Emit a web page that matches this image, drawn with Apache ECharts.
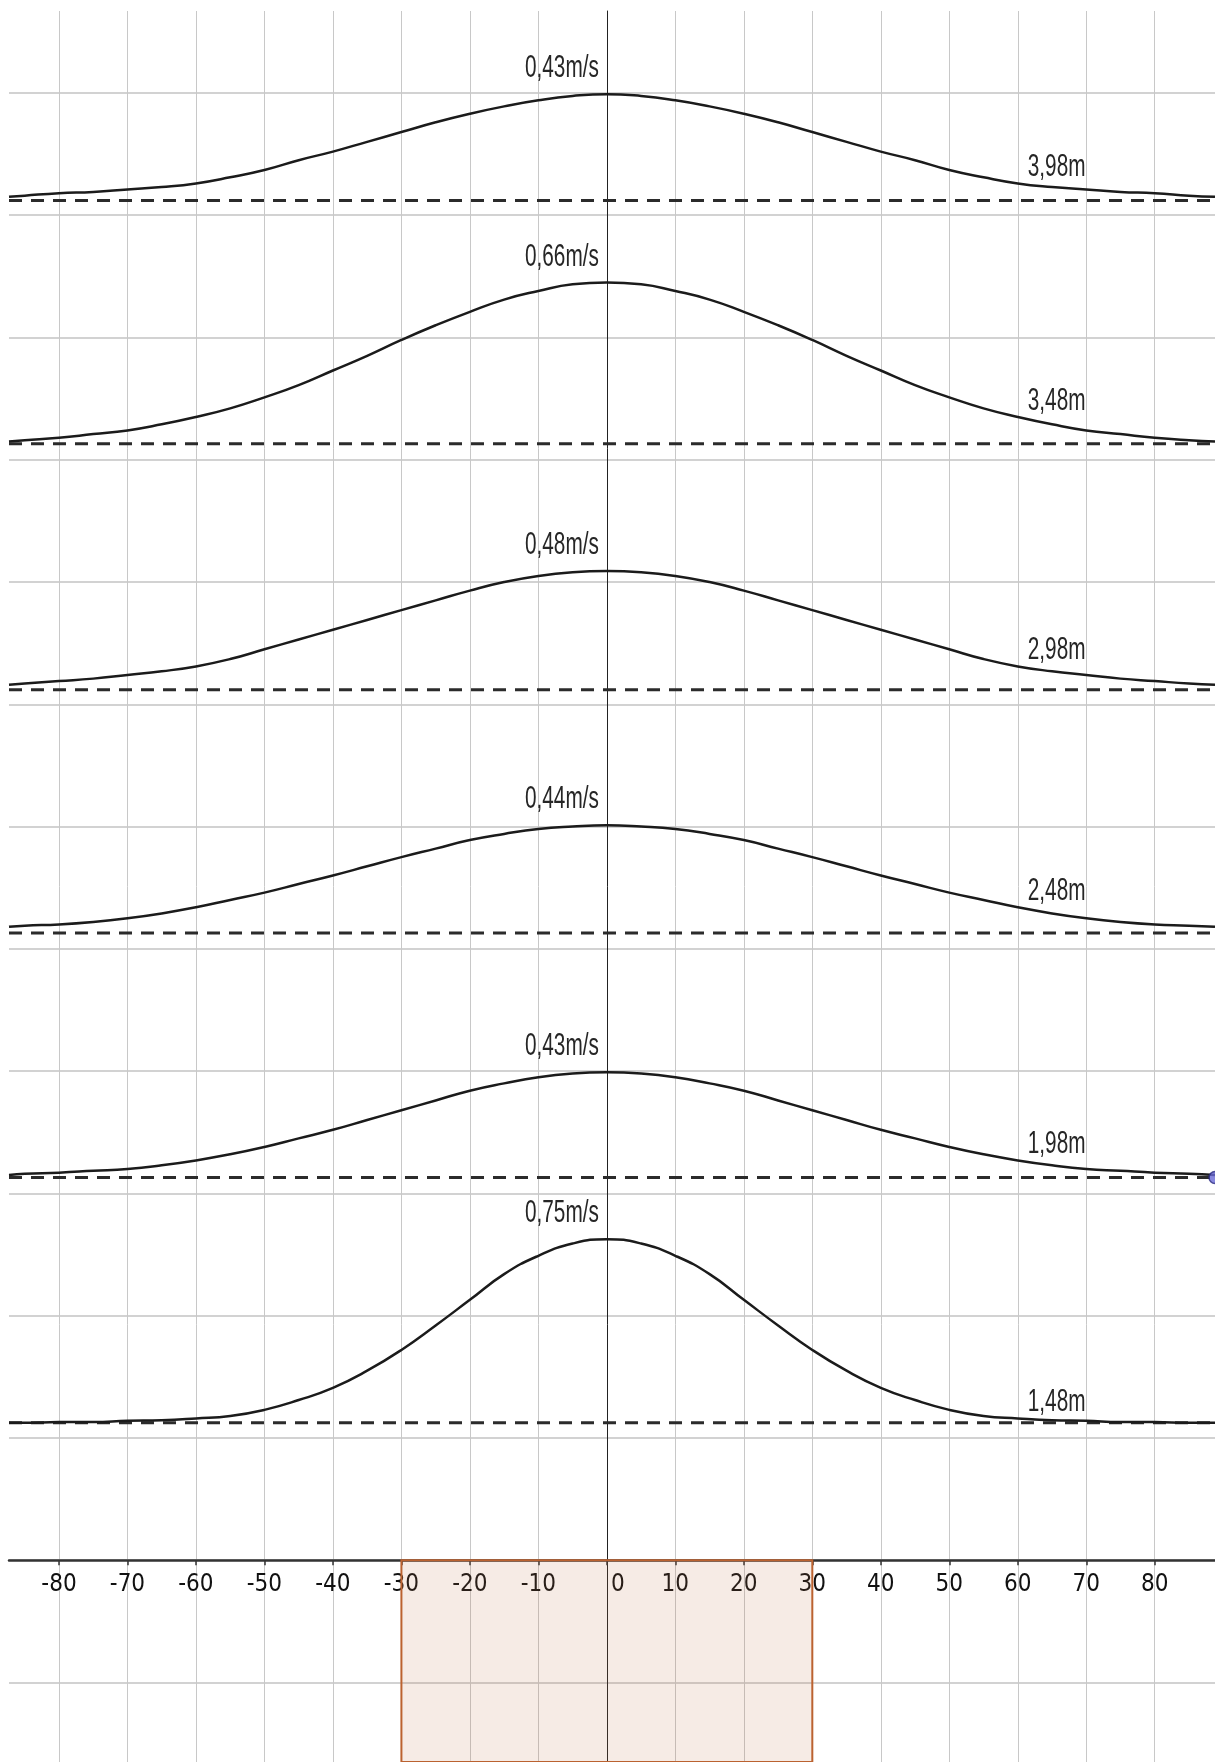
<!DOCTYPE html>
<html>
<head>
<meta charset="utf-8">
<title>Wave profiles</title>
<script src="https://cdn.jsdelivr.net/npm/echarts@6/dist/echarts.min.js"></script>
<style>
  html, body { margin: 0; padding: 0; background: #fff; }
  #main { width: 1215px; height: 1762px; }
</style>
</head>
<body>
<div id="main"></div>
<script>
// x positions the curves were read at (view edges included)
const xs = [-87.3, -85, -80, -75, -70, -65, -60, -55, -50, -45, -40, -35, -30, -25, -20, -15, -10, -5, 0,
            5, 10, 15, 20, 25, 30, 35, 40, 45, 50, 55, 60, 65, 70, 75, 80, 85, 88.8]

// curve heights in grid units
const wave398 = [11.15, 11.16, 11.18, 11.19, 11.21, 11.23, 11.26, 11.31, 11.37, 11.45, 11.52, 11.60, 11.68, 11.76, 11.83, 11.89, 11.94, 11.975, 11.99,
                 11.975, 11.94, 11.89, 11.83, 11.76, 11.68, 11.60, 11.52, 11.45, 11.37, 11.31, 11.26, 11.23, 11.21, 11.19, 11.18, 11.16, 11.15]
const wave348 = [9.15, 9.16, 9.18, 9.21, 9.24, 9.29, 9.35, 9.42, 9.51, 9.61, 9.73, 9.85, 9.98, 10.10, 10.21, 10.31, 10.38, 10.435, 10.45,
                 10.435, 10.38, 10.31, 10.21, 10.10, 9.98, 9.85, 9.73, 9.61, 9.51, 9.42, 9.35, 9.29, 9.24, 9.21, 9.18, 9.16, 9.15]
const wave298 = [7.16, 7.17, 7.19, 7.21, 7.24, 7.27, 7.31, 7.37, 7.45, 7.53, 7.61, 7.69, 7.77, 7.85, 7.93, 8.00, 8.05, 8.08, 8.09,
                 8.08, 8.05, 8.00, 7.93, 7.85, 7.77, 7.69, 7.61, 7.53, 7.45, 7.37, 7.31, 7.27, 7.24, 7.21, 7.19, 7.17, 7.16]
const wave248 = [5.18, 5.19, 5.20, 5.22, 5.25, 5.29, 5.34, 5.40, 5.46, 5.53, 5.60, 5.675, 5.75, 5.82, 5.89, 5.94, 5.98, 6.00, 6.01,
                 6.00, 5.98, 5.94, 5.89, 5.82, 5.75, 5.675, 5.60, 5.53, 5.46, 5.40, 5.34, 5.29, 5.25, 5.22, 5.20, 5.19, 5.18]
const wave198 = [3.15, 3.16, 3.17, 3.185, 3.20, 3.23, 3.27, 3.32, 3.38, 3.45, 3.52, 3.60, 3.68, 3.76, 3.84, 3.90, 3.95, 3.98, 3.99,
                 3.98, 3.95, 3.90, 3.84, 3.76, 3.68, 3.60, 3.52, 3.45, 3.38, 3.32, 3.27, 3.23, 3.20, 3.185, 3.17, 3.16, 3.15]
const wave148 = [1.125, 1.125, 1.13, 1.13, 1.14, 1.145, 1.16, 1.18, 1.23, 1.31, 1.41, 1.55, 1.72, 1.92, 2.13, 2.34, 2.49, 2.59, 2.625,
                 2.59, 2.49, 2.34, 2.13, 1.92, 1.72, 1.55, 1.41, 1.31, 1.23, 1.18, 1.16, 1.145, 1.14, 1.13, 1.13, 1.125, 1.125]

const stillLevels = [11.12, 9.13, 7.12, 5.13, 3.13, 1.125]
const depthLabels = ['3,98m', '3,48m', '2,98m', '2,48m', '1,98m', '1,48m']
const speedLabels = ['0,43m/s', '0,66m/s', '0,48m/s', '0,44m/s', '0,43m/s', '0,75m/s']
const shadedRange = [-30, 30]
const endPoint = [88.8, 3.13]

const X_MIN = -87.3, X_MAX = 88.8
const Y_MIN = -1.65, Y_MAX = 12.67
const GRID_TOP = 11, GRID_LEFT = 9
const AXIS_FONT = "'DejaVu Sans Condensed', 'Liberation Sans Narrow', sans-serif"
const LABEL_FONT = "31px 'Liberation Sans', Arial, sans-serif"

const waves = [wave398, wave348, wave298, wave248, wave198, wave148]

const chart = echarts.init(document.getElementById('main'))

// pixel distance from the bottom of the grid up to y = 0
const gridHeight = 1762 - GRID_TOP
const zeroOffset = gridHeight * (0 - Y_MIN) / (Y_MAX - Y_MIN)

const series = []

// still-water levels (dashed)
stillLevels.forEach(function (lv, i) {
    series.push({
        type: 'line',
        name: 'level' + i,
        data: [[X_MIN, lv], [X_MAX, lv]],
        symbol: 'none',
        z: 3,
        lineStyle: { color: '#2b2b2b', width: 3, type: [13, 9] }
    })
})

// wave profiles
waves.forEach(function (w, i) {
    series.push({
        type: 'line',
        name: 'wave' + i,
        data: xs.map(function (x, j) { return [x, w[j]] }),
        symbol: 'none',
        smooth: 0.5,
        z: 4,
        lineStyle: { color: '#1b1b1b', width: 2.5 }
    })
})

// point at the right edge of the 1,98m level
series.push({
    type: 'scatter',
    name: 'point',
    data: [endPoint],
    symbolSize: 12,
    z: 6,
    itemStyle: { color: '#6a6ad6', borderColor: '#2a2a80', borderWidth: 1.5 }
})

// shaded strip under the axis
series.push({
    type: 'line',
    name: 'strip',
    data: [],
    z: 2,
    markArea: {
        silent: true,
        itemStyle: {
            color: 'rgba(190,110,70,0.14)',
            borderColor: '#bb6230',
            borderWidth: 2
        },
        data: [[{ xAxis: shadedRange[0], yAxis: 0 }, { xAxis: shadedRange[1], yAxis: Y_MIN - 0.2 }]]
    }
})

const option = {
    animation: false,
    backgroundColor: '#fff',
    grid: { left: GRID_LEFT, right: 0, top: GRID_TOP, bottom: 0, containLabel: false, outerBoundsMode: 'none' },
    xAxis: {
        type: 'value',
        position: 'bottom',
        offset: -zeroOffset,
        min: X_MIN,
        max: X_MAX,
        splitNumber: 18,
        minInterval: 10,
        maxInterval: 10,
        axisLine: { onZero: false, lineStyle: { color: '#333', width: 2.5 } },
        axisTick: { show: true, length: 5, lineStyle: { color: '#333', width: 1.5 } },
        axisLabel: {
            show: true,
            margin: 13,
            showMinLabel: false,
            showMaxLabel: false,
            fontFamily: AXIS_FONT,
            fontSize: 24,
            color: '#111',
            formatter: function (v) {
                return v === 0 ? '{z|0}' : String(v)
            },
            rich: {
                z: { padding: [0, 0, 0, 22], fontFamily: AXIS_FONT, fontSize: 24, color: '#111' }
            }
        },
        splitLine: {
            show: true,
            showMinLine: false,
            showMaxLine: false,
            lineStyle: { color: '#c8c8c8', width: 1 }
        }
    },
    yAxis: {
        type: 'value',
        min: Y_MIN,
        max: Y_MAX,
        splitNumber: 14,
        minInterval: 1,
        maxInterval: 1,
        axisLine: { onZero: true, lineStyle: { color: '#222', width: 1 } },
        axisTick: { show: false },
        axisLabel: { show: false },
        splitLine: {
            show: true,
            showMinLine: false,
            showMaxLine: false,
            lineStyle: { color: '#d2d2d2', width: 2 }
        }
    },
    series: series
}

chart.setOption(option)

// speed labels over each crest, depth labels on the right flank (narrow text)
const labels = []
waves.forEach(function (w, i) {
    const crest = chart.convertToPixel({ gridIndex: 0 }, [0, w[xs.indexOf(0)]])
    labels.push({
        type: 'text', x: crest[0] - 8, y: crest[1] - 10, scaleX: 0.67, z: 10, silent: true,
        style: { text: speedLabels[i], font: LABEL_FONT, fill: '#262626', align: 'right', textAlign: 'right', verticalAlign: 'bottom', textVerticalAlign: 'bottom' }
    })
    const flank = chart.convertToPixel({ gridIndex: 0 }, [60, w[xs.indexOf(60)]])
    labels.push({
        type: 'text', x: flank[0] + 10, y: flank[1], scaleX: 0.67, z: 10, silent: true,
        style: { text: depthLabels[i], font: LABEL_FONT, fill: '#262626', align: 'left', textAlign: 'left', verticalAlign: 'bottom', textVerticalAlign: 'bottom' }
    })
})
chart.setOption({ graphic: labels })
</script>
</body>
</html>
